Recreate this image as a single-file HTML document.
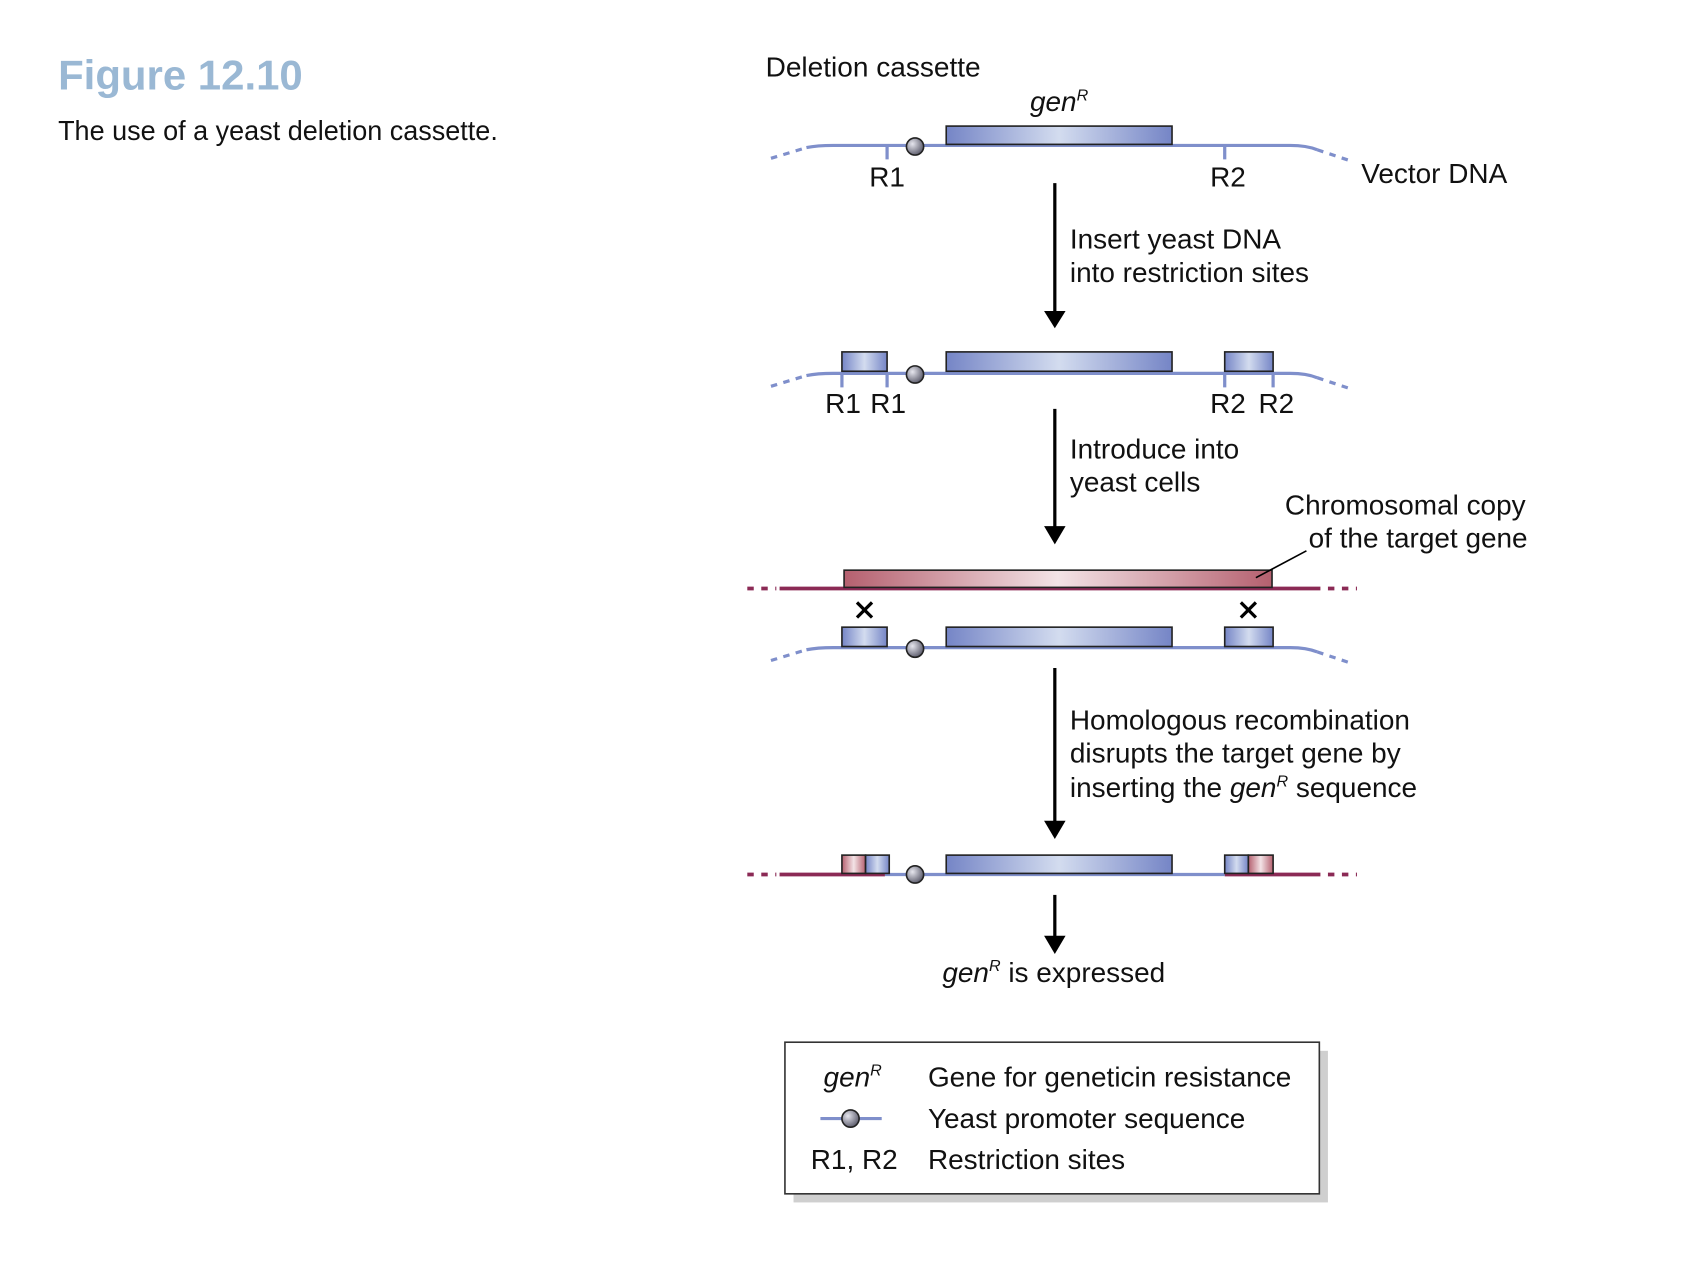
<!DOCTYPE html>
<html><head><meta charset="utf-8"><style>html,body{margin:0;padding:0;background:#fff}svg{display:block}</style></head>
<body>
<svg width="1686" height="1264" viewBox="0 0 1568 1175" xmlns="http://www.w3.org/2000/svg" font-family="Liberation Sans, sans-serif">
<defs>
<linearGradient id="bg" x1="0" x2="1"><stop offset="0" stop-color="#7585c6"/><stop offset="0.5" stop-color="#d3dcef"/><stop offset="1" stop-color="#7585c6"/></linearGradient>
<linearGradient id="rg" x1="0" x2="1"><stop offset="0" stop-color="#b5606f"/><stop offset="0.5" stop-color="#f3e3e6"/><stop offset="1" stop-color="#b5606f"/></linearGradient>
<radialGradient id="cg" cx="0.35" cy="0.35" r="0.7"><stop offset="0" stop-color="#e6e6ee"/><stop offset="1" stop-color="#5a5a6a"/></radialGradient>
</defs>
<rect width="1568" height="1175" fill="#fff"/>
<text x="54" y="83" font-size="39" font-weight="bold" fill="#9ab8d4">Figure 12.10</text>
<text x="54" y="130" font-size="26" textLength="409" lengthAdjust="spacingAndGlyphs" fill="#111">The use of a yeast deletion cassette.</text>

<g font-size="26" fill="#111">
<text x="712" y="71" textLength="200" lengthAdjust="spacingAndGlyphs">Deletion cassette</text>
<text x="985" y="103" text-anchor="middle" font-style="italic">gen<tspan font-size="15" dy="-10">R</tspan></text>
<text x="825" y="173" text-anchor="middle">R1</text>
<text x="1142" y="173" text-anchor="middle">R2</text>
<text x="1266" y="170">Vector DNA</text>
<text x="995" y="231">Insert yeast DNA</text>
<text x="995" y="262">into restriction sites</text>
<text x="784" y="384" text-anchor="middle">R1</text>
<text x="826" y="384" text-anchor="middle">R1</text>
<text x="1142" y="384" text-anchor="middle">R2</text>
<text x="1187" y="384" text-anchor="middle">R2</text>
<text x="995" y="426">Introduce into</text>
<text x="995" y="457">yeast cells</text>
<text x="1195" y="478">Chromosomal copy</text>
<text x="1217" y="509">of the target gene</text>
<text x="995" y="678">Homologous recombination</text>
<text x="995" y="709">disrupts the target gene by</text>
<text x="995" y="741">inserting the <tspan font-style="italic">gen</tspan><tspan font-size="15" dy="-10" font-style="italic">R</tspan><tspan dy="10"> sequence</tspan></text>
<text x="980" y="913" text-anchor="middle"><tspan font-style="italic">gen</tspan><tspan font-size="15" dy="-10" font-style="italic">R</tspan><tspan dy="10"> is expressed</tspan></text>
</g>

<!-- Row 1 -->
<g stroke="#7f8fcb" stroke-width="3" fill="none">
<path d="M750,137 Q760,135 775,135 L1200,135 Q1215,135 1225,139"/>
<path d="M717,147 L750,137 M1225,139 L1258,150" stroke-dasharray="6,6"/>
<path d="M825,135 V148 M1139,135 V148"/>
</g>
<rect x="880" y="117" width="210" height="17" fill="url(#bg)" stroke="#222" stroke-width="1.5"/>
<circle cx="851" cy="136" r="8" fill="url(#cg)" stroke="#222" stroke-width="1.5"/>
<line x1="981" y1="170" x2="981" y2="292" stroke="#000" stroke-width="3"/>
<polygon points="971,289 991,289 981,305" fill="#000"/>

<!-- Row 2 -->
<g stroke="#7f8fcb" stroke-width="3" fill="none">
<path d="M750,349 Q760,347 775,347 L1200,347 Q1215,347 1225,351"/>
<path d="M717,359 L750,349 M1225,351 L1258,362" stroke-dasharray="6,6"/>
<path d="M783,347 V360 M825,347 V360 M1139,347 V360 M1184,347 V360"/>
</g>
<rect x="783" y="327" width="42" height="18" fill="url(#bg)" stroke="#222" stroke-width="1.5"/>
<rect x="880" y="327" width="210" height="18" fill="url(#bg)" stroke="#222" stroke-width="1.5"/>
<rect x="1139" y="327" width="45" height="18" fill="url(#bg)" stroke="#222" stroke-width="1.5"/>
<circle cx="851" cy="348" r="8" fill="url(#cg)" stroke="#222" stroke-width="1.5"/>
<line x1="981" y1="380" x2="981" y2="492" stroke="#000" stroke-width="3"/>
<polygon points="971,489 991,489 981,506" fill="#000"/>

<!-- Chromosome -->
<g stroke="#8b2a55" stroke-width="3.5" fill="none">
<path d="M725,547 H1228"/>
<path d="M695,547 H722 M1235,547 H1262" stroke-dasharray="6,7"/>
</g>
<rect x="785" y="530" width="398" height="16" fill="url(#rg)" stroke="#222" stroke-width="1.5"/>
<line x1="1215" y1="512" x2="1168" y2="537" stroke="#000" stroke-width="1.5"/>
<g stroke="#000" stroke-width="3"><path d="M797,560 L811,574 M811,560 L797,574 M1154,560 L1168,574 M1168,560 L1154,574"/></g>

<!-- Row 3 -->
<g stroke="#7f8fcb" stroke-width="3" fill="none">
<path d="M750,604 Q760,602 775,602 L1200,602 Q1215,602 1225,606"/>
<path d="M717,614 L750,604 M1225,606 L1258,617" stroke-dasharray="6,6"/>
</g>
<rect x="783" y="583" width="42" height="18" fill="url(#bg)" stroke="#222" stroke-width="1.5"/>
<rect x="880" y="583" width="210" height="18" fill="url(#bg)" stroke="#222" stroke-width="1.5"/>
<rect x="1139" y="583" width="45" height="18" fill="url(#bg)" stroke="#222" stroke-width="1.5"/>
<circle cx="851" cy="603" r="8" fill="url(#cg)" stroke="#222" stroke-width="1.5"/>
<line x1="981" y1="621" x2="981" y2="766" stroke="#000" stroke-width="3"/>
<polygon points="971,763 991,763 981,780" fill="#000"/>

<!-- Row 4 -->
<g fill="none" stroke-width="3.5">
<path d="M725,813 H823 M1139,813 H1228" stroke="#8b2a55"/>
<path d="M695,813 H722 M1235,813 H1262" stroke="#8b2a55" stroke-dasharray="6,7"/>
<path d="M823,813 H1139" stroke="#7f8fcb" stroke-width="3"/>
</g>
<rect x="783" y="795" width="22" height="17" fill="url(#rg)" stroke="#222" stroke-width="1.5"/>
<rect x="805" y="795" width="22" height="17" fill="url(#bg)" stroke="#222" stroke-width="1.5"/>
<rect x="880" y="795" width="210" height="17" fill="url(#bg)" stroke="#222" stroke-width="1.5"/>
<rect x="1139" y="795" width="22" height="17" fill="url(#bg)" stroke="#222" stroke-width="1.5"/>
<rect x="1161" y="795" width="23" height="17" fill="url(#rg)" stroke="#222" stroke-width="1.5"/>
<circle cx="851" cy="813" r="8" fill="url(#cg)" stroke="#222" stroke-width="1.5"/>
<line x1="981" y1="832" x2="981" y2="873" stroke="#000" stroke-width="3"/>
<polygon points="971,870 991,870 981,887" fill="#000"/>

<!-- Legend -->
<rect x="738" y="977" width="497" height="141" fill="#cfcfcf"/>
<rect x="730" y="969" width="497" height="141" fill="#fff" stroke="#333" stroke-width="1.5"/>
<g font-size="26" fill="#111">
<text x="793" y="1010" text-anchor="middle" font-style="italic">gen<tspan font-size="15" dy="-10">R</tspan></text>
<text x="863" y="1010">Gene for geneticin resistance</text>
<text x="863" y="1049">Yeast promoter sequence</text>
<text x="754" y="1087">R1, R2</text>
<text x="863" y="1087">Restriction sites</text>
</g>
<line x1="763" y1="1040" x2="820" y2="1040" stroke="#7f8fcb" stroke-width="3"/>
<circle cx="791" cy="1040" r="8" fill="url(#cg)" stroke="#222" stroke-width="1.5"/>
</svg>
</body></html>
